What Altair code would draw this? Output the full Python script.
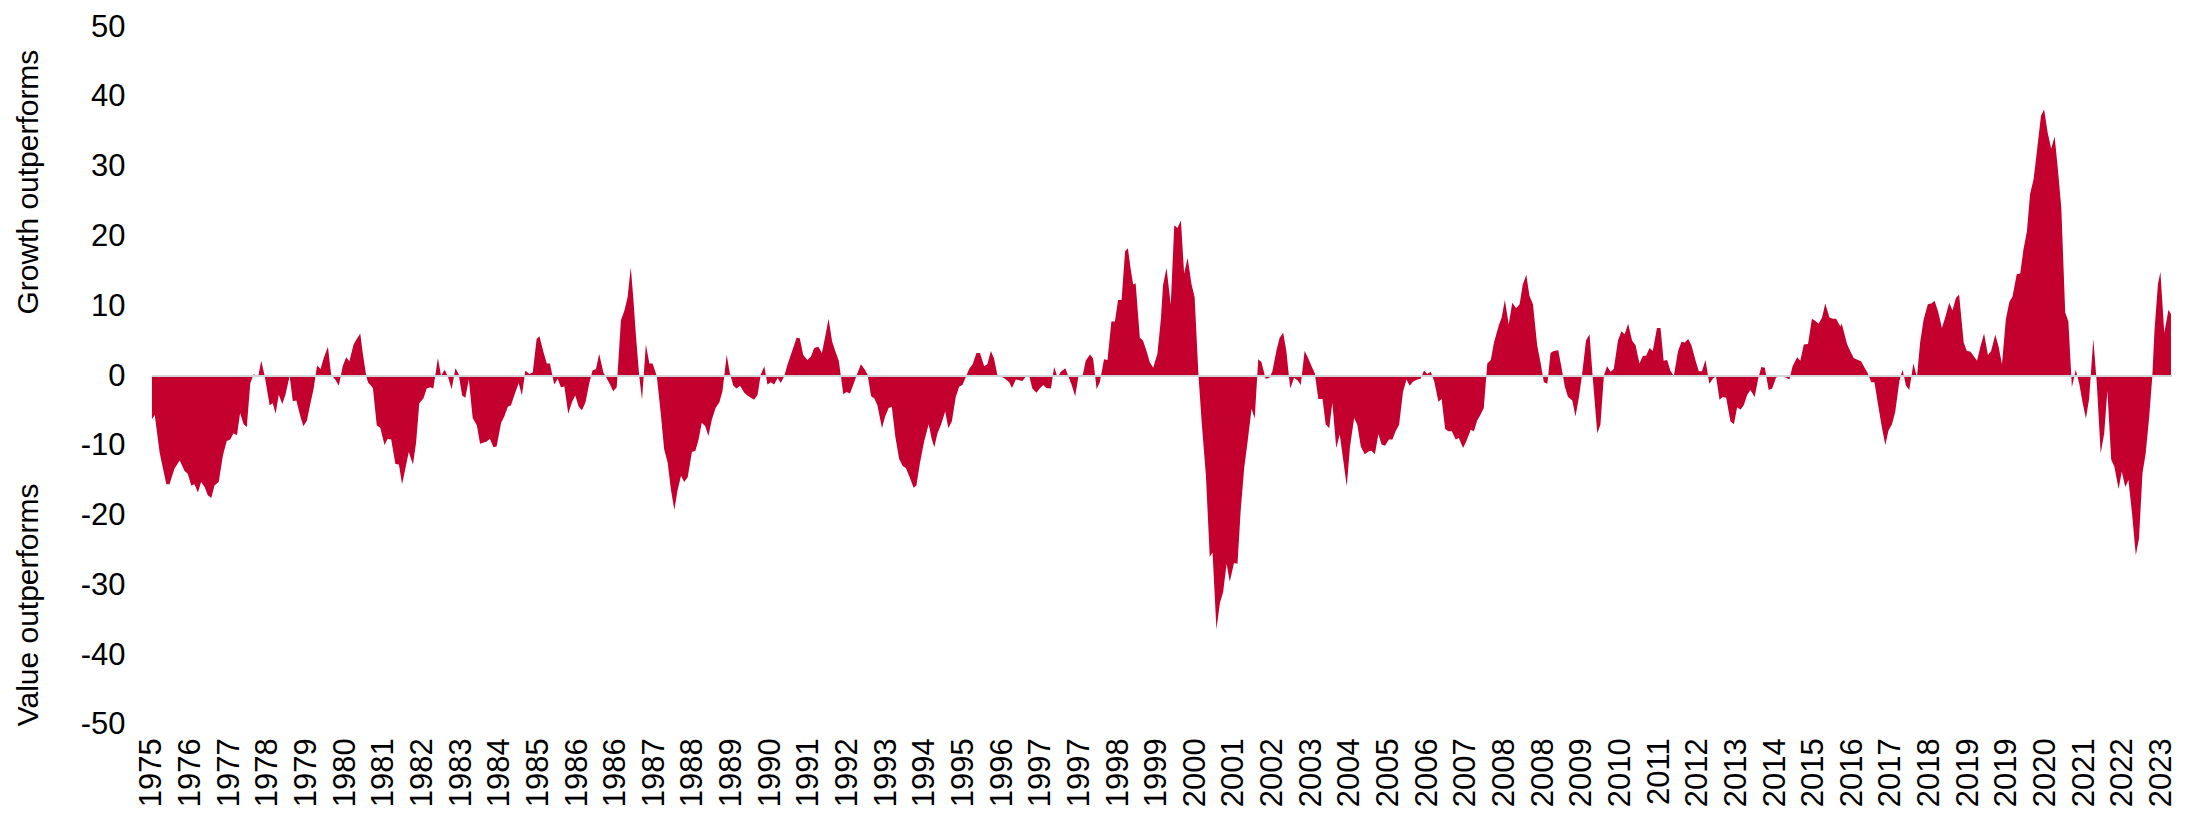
import altair as alt
import pandas as pd

# x-axis tick labels (one every 11 monthly observations)
tick_labels = ["1975", "1976", "1977", "1978", "1979", "1980", "1981", "1982", "1983", "1984",
               "1985", "1986", "1986", "1987", "1988", "1989", "1990", "1991", "1992", "1993",
               "1994", "1995", "1996", "1997", "1997", "1998", "1999", "2000", "2001", "2002",
               "2003", "2004", "2005", "2006", "2007", "2008", "2008", "2009", "2010", "2011",
               "2012", "2013", "2014", "2015", "2016", "2017", "2018", "2019", "2019", "2020",
               "2021", "2022", "2023"]
label_step = 11
y_ticks = [-50, -40, -30, -20, -10, 0, 10, 20, 30, 40, 50]
title_growth = "Growth outperforms"
title_value = "Value outperforms"

# (month index, growth minus value, % points)
seg_1975_1983 = [(0, -6.2), (0.8, -5.6), (2.2, -11), (4.1, -15.5), (5.0, -15.5), (6.4, -13.3), (7.9, -12.1),
                 (9.3, -13.6), (10.2, -14), (11.2, -15.7), (12.1, -15.5), (13.1, -16.7), (14.0, -15.2),
                 (15.0, -15.9), (15.9, -17.1), (16.9, -17.5), (17.8, -15.7), (19.0, -15.2), (20.2, -11.4),
                 (21.3, -9.3), (22.3, -9.1), (23.2, -8.2), (24.2, -8.5), (25.1, -5.3), (26.1, -6.9),
                 (27.0, -7.3), (28.0, -1), (29.0, 0.3), (30.2, -0.2), (31.1, 2.2), (32.1, 0), (33.5, -4.2),
                 (34.4, -3.9), (35.2, -5.4), (36.1, -2.7), (37.1, -4), (38.0, -2.7), (39.2, 0), (40.1, -3.6),
                 (41.1, -3.5), (42.2, -5.7), (43.1, -7.2), (44.1, -6.4), (45.0, -4.2), (46.0, -1.9),
                 (47.0, 1.5), (48.0, 1), (48.9, 2.6), (50.1, 4.2), (51.0, 0.2), (52.3, -0.6), (53.2, -1.4),
                 (54.3, 1.4), (55.3, 2.7), (56.2, 2.1), (57.4, 4.5), (58.3, 5.3), (59.3, 6.1), (60.0, 3.3),
                 (61.0, 0), (61.5, -0.9), (62.9, -1.7), (64.0, -7.1), (65.0, -7.4), (66.2, -9.9),
                 (67.1, -9), (68.1, -9.1), (69.3, -12.6), (70.3, -12.7), (71.2, -15.5), (72.2, -13.1),
                 (73.1, -10.9), (74.3, -12.7), (75.2, -9.5), (76.1, -3.9), (77.3, -3.2), (78.2, -1.8),
                 (79.2, -1.6), (80.1, -1.8), (81.4, 2.6), (82.3, 0), (83.3, 0.9), (84.2, 0), (85.3, -1.9),
                 (86.4, 1.1), (87.3, 0.3), (88.3, -2.8), (89.2, -3.1), (90.2, -0.5), (91.3, -6),
                 (92.5, -7.1), (93.4, -9.7)]

seg_1983_1991 = [(94.1, -9.6), (95.3, -9.4), (96.2, -9), (97.2, -10.2), (98.1, -10.1), (99.4, -6.7),
                 (100.3, -5.8), (101.3, -4.4), (102.2, -4.2), (103.2, -2.7), (104.4, -1), (105.3, -2.8),
                 (106.3, 0.8), (107.4, 0.3), (108.4, 0.5), (109.5, 5.3), (110.3, 5.7), (111.4, 3.5),
                 (112.4, 1.8), (113.3, 1.8), (114.5, -1.2), (115.5, -0.4), (116.4, -1.6), (117.4, -1.5),
                 (118.5, -5.4), (119.6, -3.7), (120.5, -2.8), (121.5, -4.4), (122.4, -4.9), (123.4, -3.8),
                 (124.5, -1), (125.4, 0.8), (126.4, 1), (127.3, 3.2), (128.5, 0.5), (129.4, -0.3),
                 (130.4, -1.2), (131.3, -2.2), (132.3, -1.6), (133.5, 8), (134.5, 9.4), (135.4, 11.3),
                 (136.3, 15.6), (137.0, 11.3), (137.8, 5.6), (138.7, 0), (139.5, -3.4), (140.6, 4.5),
                 (141.6, 1.8), (142.5, 1.8), (143.7, 0), (144.9, -5.7), (145.8, -10.5), (146.8, -12.4),
                 (147.7, -16.2), (148.7, -19.2), (149.6, -16.4), (150.6, -14.3), (151.5, -15.2),
                 (152.5, -14.5), (153.7, -10.9), (154.7, -10.7), (155.6, -9.1), (156.5, -6.7),
                 (157.5, -7.2), (158.4, -8.6), (159.4, -6.2), (160.5, -4.5), (161.5, -3.8), (162.4, -2.2),
                 (163.6, 3), (164.5, 0.4), (165.5, -1.4), (166.4, -1.8), (167.4, -1.4), (168.6, -2.4),
                 (169.5, -2.8), (170.5, -3.1), (171.4, -3.4), (172.4, -2.7), (173.3, 0.2), (174.3, 1.4),
                 (175.2, -1.2), (176.2, -0.9), (177.1, -1.2), (178.1, -0.3), (179.0, -1), (180.0, 0),
                 (180.9, 1.6), (182.3, 3.7), (183.5, 5.5), (184.4, 5.4), (185.4, 3), (186.6, 2.3),
                 (187.6, 2.8), (188.5, 4), (189.7, 4.2), (190.7, 3.3)]

seg_1991_1999 = [(191.7, 5.8), (192.6, 8.2), (193.6, 5), (194.5, 3.6), (195.5, 2.2), (196.1, 0), (196.8, -2.6),
                 (197.7, -2.3), (198.7, -2.5), (199.6, -1.3), (200.6, 0.1), (201.8, 1.7), (202.8, 1),
                 (203.7, 0.2), (204.7, -2.9), (205.6, -3.2), (206.5, -4.2), (207.8, -7.5), (208.7, -5.8),
                 (209.7, -4.6), (210.6, -4.4), (211.6, -8.7), (212.7, -11.9), (213.7, -12.9),
                 (214.6, -13.2), (215.6, -14.4), (216.8, -16), (217.6, -15.7), (218.6, -12.5),
                 (219.8, -9.4), (221.1, -6.9), (222.0, -9.1), (222.7, -10.2), (223.6, -8.2), (224.6, -7),
                 (225.8, -5.1), (226.7, -7.5), (227.7, -6.5), (228.8, -3), (229.8, -1.5), (230.7, -1.3),
                 (231.7, -0.1), (232.6, 1), (233.6, 1.7), (234.7, 3.3), (235.7, 3.3), (236.9, 1.4),
                 (237.8, 1.7), (238.8, 3.6), (239.7, 2.5), (240.7, 0), (241.9, -0.1), (243.1, -0.5),
                 (244.0, -0.9), (244.8, -1.7), (245.9, -0.5), (246.9, -0.6), (247.8, -0.7), (248.7, -0.1),
                 (249.7, 0), (250.6, -1.8), (251.8, -2.4), (252.7, -1.8), (253.7, -1.3), (254.6, -1.7),
                 (255.9, -1.8), (256.8, 1.3), (257.8, -0.2), (258.7, 0.6), (260.0, 1.1), (260.9, -0.1),
                 (261.8, -1.3), (262.8, -2.9), (263.7, -0.1), (264.9, 0), (265.8, 2.2), (267.0, 3.1),
                 (267.9, 2.5), (268.9, -1.9), (269.8, -0.9), (271.0, 2.4), (272.0, 2.3), (273.1, 7.8),
                 (274.1, 7.8), (275.0, 10.9), (276.0, 10.9), (277.0, 17.9), (277.8, 18.3), (278.6, 15.3),
                 (279.3, 13.1), (280.0, 13.3), (281.2, 5.5), (282.1, 5.1), (283.1, 3.6), (284.0, 2),
                 (285.0, 1.2), (286.2, 3.2)]

seg_1999_2008 = [(287.2, 8.2), (287.8, 13), (288.8, 15.5), (290.0, 10.2), (291.0, 21.6), (291.9, 21.2),
                 (292.9, 22.3), (293.8, 14.7), (294.8, 16.9), (295.9, 13.2), (296.8, 11.3), (297.9, 0),
                 (298.8, -6.6), (300.0, -14.2), (301.1, -25.9), (301.9, -25.3), (303.0, -36.3),
                 (304.0, -32.5), (304.9, -31), (305.9, -26.9), (306.8, -29.5), (308.0, -26.8),
                 (309.0, -26.9), (309.9, -19.3), (310.9, -13.2), (311.8, -9.7), (313.0, -4.7),
                 (313.9, -6.1), (314.9, 2.4), (315.8, 2), (317.0, -0.4), (318.0, -0.3), (318.9, 0.6),
                 (320.1, 3.7), (321.0, 5.5), (322.0, 6.2), (322.9, 3.6), (324.0, -1.8), (325.1, -0.3),
                 (326.1, -0.6), (327.0, -1.3), (328.1, 3.6), (329.1, 2.6), (330.0, 1.5), (331.0, 0.4),
                 (332.0, -3.3), (333.2, -3.3), (334.1, -6.9), (335.1, -7.5), (336.0, -3.8), (337.1, -10.3),
                 (338.1, -8.4), (339.0, -11.7), (340.1, -15.8), (341.0, -10.2), (342.2, -6), (343.1, -7),
                 (344.1, -10.1), (345.2, -11.2), (346.4, -10.8), (347.1, -10.7), (348.1, -11.2),
                 (349.1, -8.3), (350.0, -9.8), (351.0, -10), (352.1, -9.1), (353.1, -9.1), (354.0, -7.9),
                 (355.0, -7), (356.1, -2.3), (357.1, -0.5), (358.0, -1.4), (359.0, -0.8), (360.2, -0.5),
                 (361.1, -0.4), (362.1, 0.8), (363.0, 0.3), (364.0, 0.6), (365.0, -0.8), (366.2, -3.7),
                 (367.1, -3.3), (368.1, -7.6), (369.0, -7.9), (370.0, -7.9), (371.1, -9.1), (372.0, -8.9),
                 (373.2, -10.3), (374.1, -9.4), (375.4, -7.7), (376.3, -7.9), (377.2, -6.4), (378.2, -5.5),
                 (379.1, -4.6), (380.1, 1.8), (381.1, 2.3), (382.0, 4.8)]

seg_2008_2015 = [(383.4, 7.3), (384.2, 8.4), (385.1, 10.9), (386.2, 7.4), (387.2, 10.5), (388.3, 9.7),
                 (389.3, 10.3), (390.2, 13.1), (391.2, 14.5), (392.1, 11.5), (393.1, 10.3), (394.3, 4.4),
                 (395.3, 1.8), (396.2, -0.9), (397.2, -1.1), (398.1, 3.3), (399.0, 3.6), (400.3, 3.7),
                 (401.2, 1.3), (402.2, -1.6), (403.1, -3), (404.3, -3.5), (405.2, -5.8), (406.2, -3),
                 (407.1, 0.3), (408.2, 5.1), (409.2, 6), (410.1, -0.1), (411.4, -8.2), (412.3, -7),
                 (413.3, 0.1), (414.2, 1.4), (415.2, 0.6), (416.1, 1), (417.3, 5.1), (418.3, 6.4),
                 (419.2, 6), (420.2, 7.5), (421.3, 5.1), (422.3, 4.4), (423.4, 1.8), (424.4, 2.9),
                 (425.3, 2.9), (426.3, 4), (427.2, 3.6), (428.4, 6.9), (429.4, 6.9), (430.3, 2.2),
                 (431.3, 2.3), (432.2, 0.8), (433.2, 0), (434.4, 3.6), (435.4, 4.9), (436.3, 4.8),
                 (437.3, 5.3), (438.2, 4.4), (439.4, 2.2), (440.3, 0.7), (441.2, 0.7), (442.2, 2.3),
                 (443.3, -1.1), (444.3, -0.4), (445.2, 0), (446.2, -3.4), (447.1, -3), (448.1, -3.1),
                 (449.3, -6.5), (450.3, -6.9), (451.2, -4.5), (452.2, -4.8), (453.1, -4.2), (454.1, -2.7),
                 (455.0, -2), (456.2, -3), (457.2, -0.4), (458.1, 1.3), (459.1, 1.2), (460.2, -2),
                 (461.2, -1.8), (462.3, -0.2), (463.2, -0.1), (464.2, -0.1), (465.1, -0.2), (466.1, -0.5),
                 (467.0, 1.4), (468.3, 2.7), (469.2, 2.2), (470.2, 4.5), (471.4, 4.6), (472.5, 8.2),
                 (473.5, 7.9), (474.4, 7.5), (475.4, 8.4), (476.3, 10.4), (477.5, 8.4), (478.4, 8.2),
                 (479.4, 8.2), (480.6, 7.1)]

seg_2015_2023 = [(481.0, 7.5), (482.5, 4.6), (483.4, 3.6), (484.4, 2.6), (485.6, 2.3), (486.5, 2.1),
                 (487.5, 1.2), (488.4, 0.4), (489.4, -0.9), (490.3, -0.9), (491.3, -4), (492.4, -7.3),
                 (493.4, -9.9), (494.3, -7.8), (495.3, -6.9), (496.2, -5.2), (497.4, -0.7), (498.3, 0.9),
                 (499.3, -1.4), (500.2, -2), (501.4, 1.8), (502.4, -0.2), (503.3, 4.8), (504.3, 8.1),
                 (505.5, 10.3), (506.5, 10.4), (507.4, 10.8), (508.4, 9.3), (509.5, 6.9), (510.4, 8.3),
                 (511.6, 10.5), (512.5, 9.4), (513.5, 11.2), (514.4, 11.7), (515.7, 4.8), (516.6, 3.6),
                 (517.6, 3.5), (518.5, 2.9), (519.5, 2.2), (520.4, 4.1), (521.5, 6.1), (522.6, 3),
                 (523.5, 3.6), (524.7, 5.9), (525.6, 4.3), (526.6, 1.7), (527.7, 8.1), (528.7, 10.6),
                 (529.6, 11.4), (530.8, 14.6), (531.8, 14.7), (532.7, 18.1), (533.7, 20.7), (534.6, 26.1),
                 (535.6, 28.2), (536.5, 32), (537.7, 37.3), (538.6, 38.2), (539.6, 34.9), (540.6, 32.6),
                 (541.6, 34.3), (542.5, 29.7), (543.5, 24), (544.6, 9.1), (545.5, 7.8), (546.5, -1.6),
                 (547.6, 0.9), (548.6, -1.1), (549.5, -3.7), (550.5, -6.1), (551.4, -3.3), (552.6, 5.3),
                 (553.6, -1.1), (554.7, -11.1), (555.7, -8.2), (556.6, -2.1), (557.7, -12), (558.6, -13),
                 (559.8, -16.2), (560.7, -13.7), (561.7, -15.9), (562.6, -14.9), (563.6, -19.6),
                 (564.7, -25.7), (565.6, -23.3), (566.6, -13.9), (567.5, -11.1), (568.5, -5.9),
                 (569.4, 0), (570.0, 6.4), (571.0, 13.2), (571.7, 14.9), (572.8, 6.2), (574.0, 9.5),
                 (574.7, 8.9)]

points = (seg_1975_1983 + seg_1983_1991 + seg_1991_1999 + seg_1999_2008
          + seg_2008_2015 + seg_2015_2023)
df = pd.DataFrame(points, columns=["month", "spread"])

tick_positions = [i * label_step for i in range(len(tick_labels))]
label_expr = "[" + ",".join('"%s"' % t for t in tick_labels) + "][round(datum.value / %d)]" % label_step

FONT = "Liberation Sans"
RED = "#C4002F"

x_enc = alt.X(
    "month:Q",
    scale=alt.Scale(domain=[0, 575], nice=False, zero=False),
    axis=alt.Axis(values=tick_positions, labelExpr=label_expr, labelAngle=270, title=None,
                  domain=False, ticks=False, grid=False, labelFont=FONT, labelFontSize=31,
                  labelColor="#000000", labelPadding=13, labelOverlap=False, labelFlush=False,
                  labelBound=False),
)
y_enc = alt.Y(
    "spread:Q",
    scale=alt.Scale(domain=[-50, 50], nice=False, zero=False),
    axis=alt.Axis(values=y_ticks, labelExpr="datum.value + ''", title=None, domain=False,
                  ticks=False, grid=False, labelFont=FONT, labelFontSize=31, labelColor="#000000",
                  labelPadding=27),
)

area = alt.Chart(df).mark_area(color=RED, interpolate="linear").encode(x=x_enc, y=y_enc)

zero_line = alt.Chart(pd.DataFrame({"zero": [0]})).mark_rule(
    color="#D3D6D8", strokeWidth=2
).encode(y=alt.Y("zero:Q"))

t_growth = alt.Chart(pd.DataFrame({"t": [title_growth]})).mark_text(
    angle=270, font=FONT, fontSize=30, color="#000000", align="center", baseline="middle"
).encode(text="t:N", x=alt.value(-123), y=alt.value(155))

t_value = alt.Chart(pd.DataFrame({"t": [title_value]})).mark_text(
    angle=270, font=FONT, fontSize=30, color="#000000", align="center", baseline="middle"
).encode(text="t:N", x=alt.value(-123), y=alt.value(578))

chart = alt.layer(area, zero_line, t_growth, t_value).properties(
    width=2021,
    height=698,
    autosize=alt.AutoSizeParams(type="none"),
    padding={"left": 144, "top": 19, "right": 20, "bottom": 90},
    background="#FFFFFF",
).configure_view(stroke=None)

chart.save("out.html", embed_options={"renderer": "svg", "actions": False})
